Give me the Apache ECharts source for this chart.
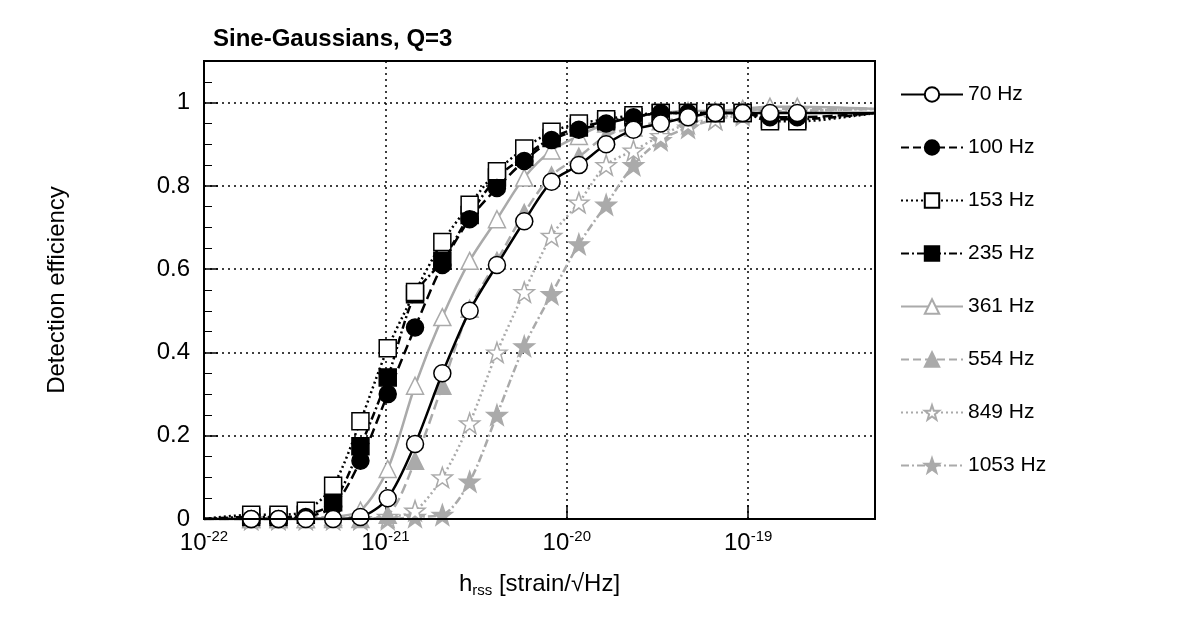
<!DOCTYPE html>
<html><head><meta charset="utf-8">
<script src="https://cdn.jsdelivr.net/npm/echarts@6/dist/echarts.min.js"></script>
<style>html,body{margin:0;background:#fff}#c{width:1181px;height:625px}</style>
</head><body><div id="c"></div>
<script>
// x grid: hrss = X0 * sqrt(2)^k, k = -5..15 (plotted as log10(hrss))
const X0 = 1.03e-21;
const kValues = [-5,-4,-3,-2,-1,0,1,2,3,4,5,6,7,8,9,10,11,12,13,14,15];
const names = ['70 Hz','100 Hz','153 Hz','235 Hz','361 Hz','554 Hz','849 Hz','1053 Hz'];
const eff70   = [0,0,0,0,0.005,0.05,0.18,0.35,0.50,0.61,0.715,0.81,0.85,0.90,0.935,0.95,0.965,0.975,0.975,0.975,0.975];
const eff100  = [0,0,0.005,0.03,0.14,0.30,0.46,0.61,0.72,0.795,0.86,0.91,0.935,0.95,0.965,0.975,0.975,0.975,0.975,0.965,0.965];
const eff153  = [0.01,0.01,0.02,0.08,0.235,0.41,0.545,0.665,0.755,0.835,0.89,0.93,0.95,0.96,0.97,0.975,0.975,0.975,0.975,0.955,0.955];
const eff235  = [0.005,0.005,0.01,0.04,0.175,0.34,0.54,0.62,0.73,0.82,0.87,0.915,0.94,0.955,0.965,0.975,0.975,0.975,0.975,0.96,0.96];
const eff361  = [0,0,0,0.005,0.02,0.12,0.32,0.485,0.62,0.72,0.82,0.885,0.92,0.95,0.965,0.975,0.98,0.98,0.985,0.99,0.99];
const eff554  = [0,0,0,0,0,0.01,0.14,0.32,0.505,0.62,0.735,0.825,0.87,0.92,0.94,0.955,0.965,0.975,0.98,0.985,0.985];
const eff849  = [0,0,0,0,0,0.005,0.02,0.10,0.23,0.40,0.545,0.68,0.76,0.85,0.885,0.92,0.95,0.96,0.97,0.975,0.98];
const eff1053 = [0,0,0,0,0,0,0.005,0.01,0.09,0.25,0.415,0.54,0.66,0.755,0.85,0.91,0.94,0.96,0.975,0.975,0.98];
const allEff = [eff70,eff100,eff153,eff235,eff361,eff554,eff849,eff1053];
const LXMIN = -22, LXMAX = Math.log10(5e-19);
const LEFT_END = 0, RIGHT_END = [0.975,0.975,0.975,0.975,0.985,0.985,0.985,0.985];

const colors = ['#000','#000','#000','#000','#aaa','#aaa','#aaa','#aaa'];
const dashes = ['solid','dashed',[2,3],[8,3,2,3],'solid','dashed',[2,3],[8,3,2,3]];
const star = 'path://M0,-10L2.35,-3.24L9.51,-3.09L3.8,1.24L5.88,8.09L0,4L-5.88,8.09L-3.8,1.24L-9.51,-3.09L-2.35,-3.24Z';
const symbols = ['circle','circle','rect','rect','triangle','triangle',star,star];
const filled = [false,true,false,true,false,true,false,true];

const series = names.map((n,i)=>{
  const pts = kValues.map((k,j)=>[Math.log10(X0)+k*Math.log10(Math.SQRT2), allEff[i][j]]);
  const data = [{value:[LXMIN,LEFT_END],symbol:'none'}].concat(pts.map(p=>({value:p}))).concat([{value:[LXMAX,RIGHT_END[i]],symbol:'none'}]);
  return {
    name:n, type:'line', data, smooth:0.3, symbol:symbols[i], symbolSize: i>=6?20:17,
    lineStyle:{color:colors[i], width:2.5, type:dashes[i]},
    itemStyle:{color: filled[i]?colors[i]:'#fff', borderColor:colors[i], borderWidth:1.5},
    z: 10-i
  };
});

const chart = echarts.init(document.getElementById('c'));
chart.setOption({
  animation:false,
  title:{text:'Sine-Gaussians, Q=3', left:208, top:22, textStyle:{fontFamily:'Liberation Sans', fontWeight:'bold', fontSize:24, color:'#000'}},
  grid:{left:204, right:306, top:61, bottom:106},
  legend:{orient:'vertical', left:895, top:79, itemWidth:62, itemHeight:18, itemGap:32,
    textStyle:{fontFamily:'Liberation Sans', fontSize:21, color:'#000'}},
  xAxis:{type:'value', min:LXMIN, max:LXMAX, interval:1,
    name:'{n|h}{s|rss}{n| [strain/\u221AHz]}', nameLocation:'middle', nameGap:52,
    nameTextStyle:{rich:{n:{fontSize:24,fontFamily:'Liberation Sans',color:'#000'},s:{fontSize:15,fontFamily:'Liberation Sans',color:'#000',verticalAlign:'bottom',padding:[12,0,0,0]}}},
    axisLine:{lineStyle:{color:'#000',width:2}},
    axisTick:{inside:true,length:14,lineStyle:{color:'#000',width:1.5}},
    splitLine:{show:true,lineStyle:{color:'#000',type:[2,4],width:1.5}},
    axisLabel:{margin:10, showMaxLabel:false, formatter:v=>{ if(Math.abs(v-Math.round(v))>1e-6) return ''; return '{b|10}{e|'+Math.round(v)+'}';},
      rich:{b:{fontSize:24,fontFamily:'Liberation Sans',color:'#000'},e:{fontSize:15,fontFamily:'Liberation Sans',color:'#000',verticalAlign:'top',padding:[0,0,14,0]}}}
  },
  yAxis:{type:'value', min:0, max:1.1, interval:0.2,
    name:'Detection efficiency', nameLocation:'middle', nameGap:135, nameRotate:90,
    nameTextStyle:{fontSize:24,fontFamily:'Liberation Sans',color:'#000'},
    axisLine:{show:true,lineStyle:{color:'#000',width:2}},
    axisTick:{inside:true,length:14,lineStyle:{color:'#000',width:1.5}},
    minorTick:{show:true,splitNumber:4,length:8,lineStyle:{color:'#000'}},
    splitLine:{show:true,lineStyle:{color:'#000',type:[2,4],width:1.5}},
    axisLabel:{showMaxLabel:false, fontSize:24, fontFamily:'Liberation Sans', color:'#000', margin:14,
      formatter:v=> v>1.05?'':(v===0?'0':(Math.abs(v-1)<1e-6?'1':v.toFixed(1)))}
  },
  series,
  graphic:[{type:'rect',shape:{x:204,y:61,width:671,height:458},style:{fill:'none',stroke:'#000',lineWidth:2},silent:true,z:100}]
});
</script></body></html>
